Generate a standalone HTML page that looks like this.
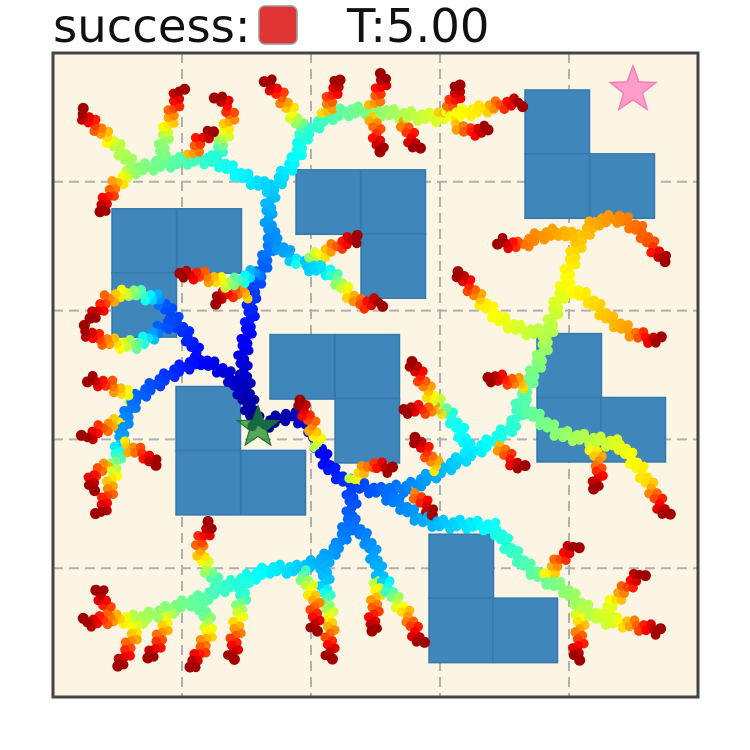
<!DOCTYPE html>
<html><head><meta charset="utf-8"><style>
html,body{margin:0;padding:0;background:#fff;width:750px;height:750px;overflow:hidden}
svg{display:block}
text{font-family:"DejaVu Sans","Liberation Sans",sans-serif}
</style></head><body>
<svg id="chart" width="750" height="750" viewBox="0 0 750 750">
<text x="53" y="42" font-size="46.5" fill="#111">success:</text>
<rect x="259" y="6" width="38" height="38" rx="6" fill="#e03333" stroke="#999" stroke-width="1.5"/>
<text x="347" y="42" font-size="46.5" fill="#111">T:5.00</text>
<g id="plot"></g>
</svg>
<script>
const domainMin = 53, domainMax = 698;
const obstacles = [
 [525,90],[525,154],[590,154],
 [296,170],[361,170],[361,234],
 [112,209],[177,209],[112,273],
 [270,335],[335,335],[335,399],
 [176,387],[176,451],[241,451],
 [537,334],[537,398],[601,398],
 [429,535],[429,599],[493,599]
];
const obstacleSize = 64.5;
const goal = [633,90];
const start = [258,428];
const branches = [
 [[258,428],[248,395],[242,360],[250,320],[252,295],[262,270],[272,240],[268,215],[272,190],[295,160],[305,135],[325,118],[345,112],[372,110],[400,115],[440,118],[470,112],[500,105],[522,102]],
 [[272,240],[300,265],[320,255],[340,245],[358,238]],
 [[300,265],[330,272],[345,290],[360,305],[382,302]],
 [[262,270],[230,285],[200,275],[180,276]],
 [[252,295],[235,292],[214,300]],
 [[272,190],[240,175],[215,160],[190,160],[160,165],[135,170],[115,185],[100,212]],
 [[160,165],[165,135],[175,105],[180,88]],
 [[135,170],[120,150],[100,130],[80,112]],
 [[215,160],[225,135],[232,112],[218,95]],
 [[190,160],[200,140],[212,130]],
 [[305,135],[290,110],[280,95],[266,80]],
 [[325,118],[332,95],[340,80]],
 [[372,110],[380,90],[385,75]],
 [[372,110],[376,130],[380,152]],
 [[400,115],[410,135],[416,150]],
 [[440,118],[455,100],[460,85]],
 [[450,120],[468,132],[488,130]],
 [[258,428],[290,415],[310,425],[320,450],[330,470],[350,485],[380,492],[410,488],[440,472],[470,455],[495,440],[515,425],[520,405],[528,385],[540,360],[548,335],[555,310],[565,285],[572,260],[580,240],[595,222],[620,218],[640,230],[655,250],[665,262]],
 [[565,285],[590,300],[610,320],[635,335],[660,342]],
 [[580,240],[560,232],[540,236],[520,246],[498,242]],
 [[548,335],[520,330],[500,320],[480,300],[458,272]],
 [[528,385],[505,380],[488,378]],
 [[520,405],[540,420],[560,435],[590,440],[620,445],[640,470],[655,495],[666,517]],
 [[590,440],[600,465],[596,490]],
 [[470,455],[460,430],[445,410],[430,395],[422,380],[412,362]],
 [[445,410],[422,410],[404,410]],
 [[495,440],[510,460],[522,470]],
 [[320,450],[310,420],[298,402]],
 [[350,485],[352,505],[350,520],[340,545],[325,560],[300,570],[270,570],[245,580],[220,590],[200,600],[170,610],[140,620],[110,620],[84,624]],
 [[245,580],[240,610],[235,640],[232,660]],
 [[220,590],[205,565],[198,545],[212,525]],
 [[200,600],[210,630],[200,655],[190,668]],
 [[140,620],[130,645],[120,668]],
 [[170,610],[160,640],[150,660]],
 [[110,620],[104,602],[98,590]],
 [[325,560],[325,590],[330,620],[330,660]],
 [[300,570],[315,600],[315,632]],
 [[350,520],[370,545],[380,575],[395,600],[410,620],[420,645]],
 [[380,575],[375,605],[372,632]],
 [[380,492],[400,505],[420,520],[440,525],[470,525],[495,528],[510,550],[530,570],[545,580],[565,590],[580,605],[600,620],[630,625],[660,632]],
 [[545,580],[560,560],[576,545]],
 [[580,605],[580,640],[575,660]],
 [[600,620],[620,595],[642,573]],
 [[410,488],[422,502],[434,514]],
 [[258,428],[240,390],[225,372],[200,360],[175,372],[155,385],[135,400],[125,420],[120,445],[115,465],[110,490],[100,516]],
 [[200,360],[190,340],[175,320],[160,330],[140,345],[120,345],[100,340],[82,330]],
 [[175,320],[160,300],[130,292],[106,300],[92,320]],
 [[135,400],[110,385],[88,380]],
 [[125,420],[100,430],[84,440]],
 [[120,445],[145,455],[156,466]],
 [[115,465],[95,472],[90,490]],
 [[350,485],[370,465],[392,470]],
 [[440,472],[425,450],[415,438]]
];
const gridTicks = [1,2,3,4];

const plotL = 53, plotT = 53, plotW = 645, plotH = 644;
function xScale(v){ return plotL + (v - domainMin) / (domainMax - domainMin) * plotW; }
function yScale(v){ return plotT + (v - domainMin) / (domainMax - domainMin) * plotH; }
const NS = "http://www.w3.org/2000/svg";
const g = document.getElementById('plot');
function mk(tag, attrs){ const e = document.createElementNS(NS, tag); for (const k in attrs) e.setAttribute(k, attrs[k]); g.appendChild(e); return e; }

const bg = mk('rect', {x:plotL, y:plotT, width:plotW, height:plotH, fill:'#fdf5e4'});



gridTicks.forEach(t => {
  const px = plotL + t * plotW / 5, py = plotT + t * plotH / 5;
  const vl = mk('line', {x1:px, y1:plotT, x2:px, y2:plotT+plotH, stroke:'#b0b0b0', 'stroke-width':2, 'stroke-dasharray':'10,6'});
  
  
  const hl = mk('line', {x1:plotL, y1:py, x2:plotL+plotW, y2:py, stroke:'#b0b0b0', 'stroke-width':2, 'stroke-dasharray':'10,6'});
  
  
});

obstacles.forEach(o => {
  const r = mk('rect', {x:xScale(o[0]), y:yScale(o[1]), width:obstacleSize, height:obstacleSize, fill:'#3f86bb', stroke:'#3679ab', 'stroke-width':1.5});
  
  
});

function jet(t){
  t = Math.max(0, Math.min(1, t));
  const c = v => Math.round(255 * Math.max(0, Math.min(1, v)));
  const r = 1.5 - Math.abs(4*t - 3), gg = 1.5 - Math.abs(4*t - 2), b = 1.5 - Math.abs(4*t - 1);
  return `rgb(${c(r)},${c(gg)},${c(b)})`;
}
const nodes = [];
branches.forEach(br => {
  let d0 = 0, best = Infinity;
  nodes.forEach(n => { const dd = Math.hypot(n.x - br[0][0], n.y - br[0][1]); if (dd < best) { best = dd; d0 = n.d; } });
  let total = 0;
  for (let i = 1; i < br.length; i++) total += Math.hypot(br[i][0]-br[i-1][0], br[i][1]-br[i-1][1]);
  let d = d0, idx = 0, run = 0;
  for (let i = 1; i < br.length; i++) {
    const [ax, ay] = br[i-1], [bx, by] = br[i];
    const L = Math.hypot(bx-ax, by-ay), steps = Math.max(1, Math.round(L / 3.5));
    const nx = -(by-ay)/L, ny = (bx-ax)/L;
    for (let s = 1; s <= steps; s++) {
      const f = s / steps, off = ((idx * 7) % 5 - 2) * 2.4;
      const along = run + L*f;
      nodes.push({x: ax + (bx-ax)*f + nx*off, y: ay + (by-ay)*f + ny*off, d: d + L*f, rem: total - along, tip: (i === br.length-1 && s === steps)});
      idx++;
    }
    d += L; run += L;
  }
});
nodes.sort((a,b) => a.d - b.d);
nodes.forEach(n => {
  const t = Math.min(1, Math.max(n.d / 760, 1 - n.rem / 110));
  const c = mk('circle', {cx:xScale(n.x), cy:yScale(n.y), r: n.tip ? 5.5 : 4.8, fill: n.tip ? '#a00000' : jet(t)});
  
  
});

function star(cx, cy, R, r){
  let p = [];
  for (let i = 0; i < 10; i++) { const a = -Math.PI/2 + i*Math.PI/5, rr = i%2 ? r : R; p.push((cx+rr*Math.cos(a)).toFixed(1)+','+(cy+rr*Math.sin(a)).toFixed(1)); }
  return p.join(' ');
}
const gs = mk('polygon', {points: star(xScale(goal[0]), yScale(goal[1]), 24, 10), fill:'#ff9cc8', stroke:'#f57fb5', 'stroke-width':1.5});


const ss = mk('polygon', {points: star(xScale(start[0]), yScale(start[1]), 22, 9), fill:'rgba(30,140,40,0.75)', stroke:'#1a6d22', 'stroke-width':1});



const fr = mk('rect', {x:plotL, y:plotT, width:plotW, height:plotH, fill:'none', stroke:'#444', 'stroke-width':3});


</script>
</body></html>
